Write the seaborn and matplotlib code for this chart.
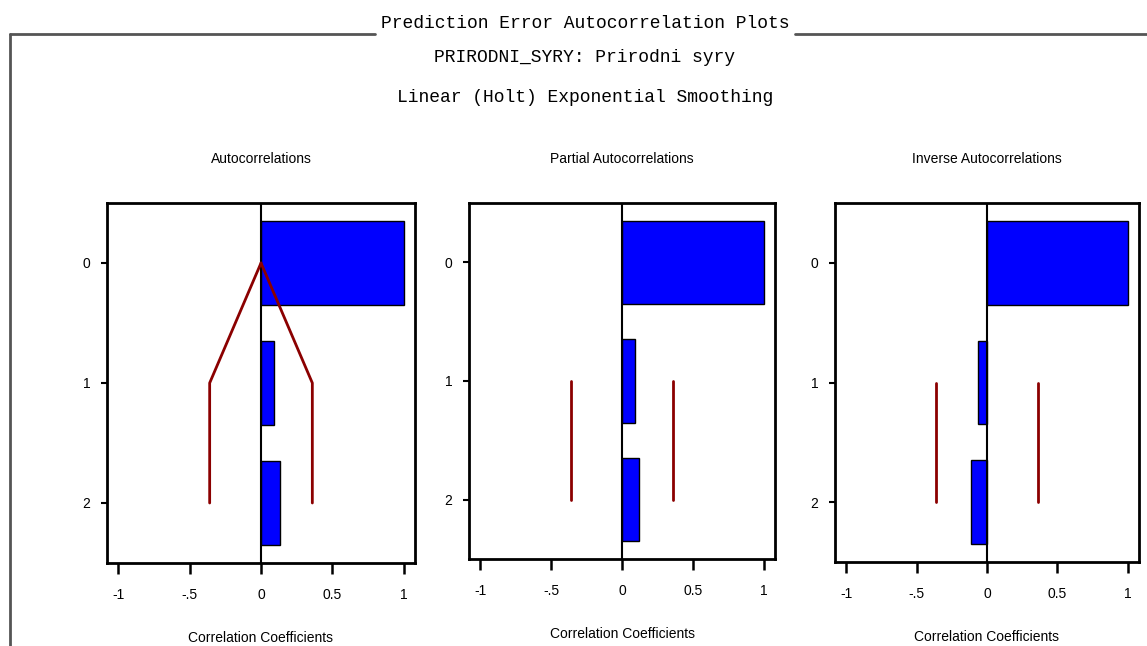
import numpy as np
import pandas as pd
import matplotlib
matplotlib.use("Agg")
import matplotlib.pyplot as plt
from matplotlib.lines import Line2D
import seaborn as sns

# ==============================
# DATA
# ==============================

lags = [0, 1, 2]
acf_vals = [1.00, 0.09, 0.13]
pacf_vals = [1.00, 0.09, 0.12]
iacf_vals = [1.00, -0.065, -0.115]
conf_bound = 0.36

panel_titles = ["Autocorrelations", "Partial Autocorrelations", "Inverse Autocorrelations"]
xtick_vals = [-1, -0.5, 0, 0.5, 1]
xtick_labels = ["-1", "-.5", "0", "0.5", "1"]

main_title = "Prediction Error Autocorrelation Plots"
sub_title1 = "PRIRODNI_SYRY: Prirodni syry"
sub_title2 = "Linear (Holt) Exponential Smoothing"

# ==============================
# STYLE
# ==============================

sns.set_theme(style="white")
plt.rcParams['font.family'] = ['Liberation Sans Narrow', 'Liberation Sans', 'DejaVu Sans']
plt.rcParams['text.color'] = 'black'
plt.rcParams['axes.labelcolor'] = 'black'
plt.rcParams['xtick.color'] = 'black'
plt.rcParams['ytick.color'] = 'black'

W, H = 1147, 646
fig = plt.figure(figsize=(W / 100, H / 100), dpi=100)
fig.patch.set_facecolor("white")

# axes boxes in pixels: left, right, top, bottom
boxes = [(107, 415, 203, 563), (469, 775, 203, 559), (835, 1139, 203, 562)]
panels = [acf_vals, pacf_vals, iacf_vals]

for i, (vals, box) in enumerate(zip(panels, boxes)):
    l, r, t, b = box
    ax = fig.add_axes([l / W, 1 - b / H, (r - l) / W, (b - t) / H])
    df = pd.DataFrame({"lag": lags, "value": vals})
    sns.barplot(data=df, x="value", y="lag", orient="h", color="#0000FF",
                edgecolor="black", linewidth=1, width=0.7, saturation=1, ax=ax)
    ax.axvline(0, color="black", lw=1.5, zorder=3)

    # confidence bounds
    if i == 0:
        bx = [0, conf_bound, conf_bound]
        by = [0, 1, 2]
    else:
        bx = [conf_bound, conf_bound]
        by = [1, 2]
    ax.plot(bx, by, color="#8B0000", lw=2, zorder=4)
    ax.plot([-v for v in bx], by, color="#8B0000", lw=2, zorder=4)

    ax.set_xlim(-1.08, 1.08)
    ax.set_ylim(2.5, -0.5)
    ax.set_xticks(xtick_vals)
    ax.set_xticklabels(xtick_labels)
    ax.set_yticks(lags)
    ax.set_yticklabels([str(v) for v in lags])
    ax.tick_params(axis="x", direction="out", length=8, width=1.8, pad=10,
                   labelsize=10, bottom=True, color="black", labelcolor="black")
    ax.tick_params(axis="y", direction="out", length=4, width=1.5, pad=8,
                   labelsize=10, left=True, color="black", labelcolor="black")
    for sp in ax.spines.values():
        sp.set_color("black")
        sp.set_linewidth(2)
    ax.set_title(panel_titles[i], fontsize=10, pad=29, color="black")
    ax.set_xlabel("Correlation Coefficients", fontsize=10, labelpad=21, color="black")
    ax.set_ylabel("")

# ==============================
# HEADER + FRAME
# ==============================

mono = ['Liberation Mono', 'DejaVu Sans Mono']
fig.text(585 / W, 1 - 24 / H, main_title, ha="center", va="center",
         fontsize=13, family=mono, color="black")
fig.text(585 / W, 1 - 58 / H, sub_title1, ha="center", va="center",
         fontsize=13, family=mono, color="black")
fig.text(585 / W, 1 - 98 / H, sub_title2, ha="center", va="center",
         fontsize=13, family=mono, color="black")

frame_col = "#555555"
fig.add_artist(Line2D([10 / W, 375 / W], [1 - 34 / H, 1 - 34 / H], color=frame_col, lw=2))
fig.add_artist(Line2D([795 / W, 1.0], [1 - 34 / H, 1 - 34 / H], color=frame_col, lw=2))
fig.add_artist(Line2D([10 / W, 10 / W], [1 - 34 / H, 0.0], color=frame_col, lw=2))

plt.savefig("out.png", dpi=100)
